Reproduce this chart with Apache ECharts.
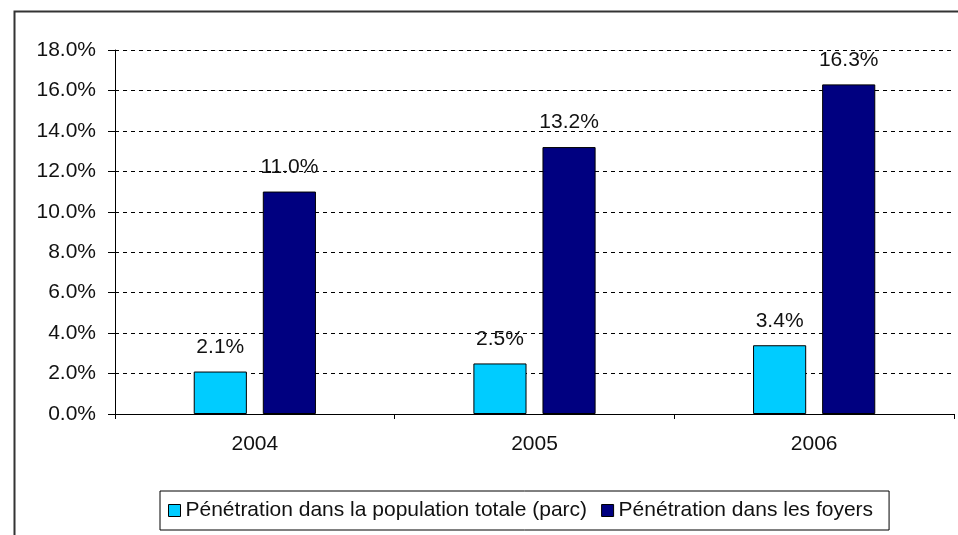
<!DOCTYPE html>
<html>
<head>
<meta charset="utf-8">
<script src="https://cdn.jsdelivr.net/npm/echarts@6/dist/echarts.min.js"></script>
<style>
	html, body { margin: 0; padding: 0; background: #fff; }
	#chart { width: 958px; height: 535px; }
</style>
</head>
<body>
<div id="chart"></div>
<script>
const years = ["2004", "2005", "2006"];
const populationValues = [2.1, 2.5, 3.4];
const foyersValues = [11.0, 13.2, 16.3];
const seriesNames = [
	"Pénétration dans la population totale (parc)",
	"Pénétration dans les foyers",
];

const chart = echarts.init(document.getElementById("chart"), null, { renderer: "canvas" });

const font = "Arial, 'Liberation Sans', sans-serif";
const fontSize = 21;

function barSeries(name, data, color) {
	return {
		name: name,
		type: "bar",
		data: data,
		barWidth: "19%",
		barGap: "30%",
		itemStyle: { color: color, borderColor: "#000", borderWidth: 1 },
		label: {
			show: true,
			position: "top",
			distance: 14,
			color: "#111",
			fontFamily: font,
			fontSize: fontSize,
			formatter: (p) => p.value.toFixed(1) + "%",
		},
	};
}

const option = {
	backgroundColor: "#fff",
	animation: false,
	graphic: [
		{
			type: "rect",
			left: 12,
			top: 9,
			shape: { width: 980, height: 560 },
			style: { fill: "none", stroke: "#333", lineWidth: 2 },
			silent: true,
		},
	],
	grid: { left: 115, right: 4, top: 50, bottom: 121 },
	legend: {
		left: 160,
		top: 491,
		padding: [9, 16, 9, 8],
		itemGap: 14,
		itemWidth: 12,
		itemHeight: 12,
		icon: "rect",
		borderColor: "#000",
		borderWidth: 1,
		itemStyle: { borderColor: "#000", borderWidth: 1 },
		textStyle: { color: "#111", fontFamily: font, fontSize: fontSize, padding: [0, 0, 0, 0] },
		data: seriesNames,
	},
	xAxis: {
		type: "category",
		data: years,
		boundaryGap: true,
		axisLine: { lineStyle: { color: "#000", width: 1 } },
		axisTick: { show: true, alignWithLabel: false, length: 5, lineStyle: { color: "#000" } },
		axisLabel: { color: "#111", fontFamily: font, fontSize: fontSize, margin: 20 },
	},
	yAxis: {
		type: "value",
		min: 0,
		max: 18,
		interval: 2,
		axisLine: { show: true, lineStyle: { color: "#000", width: 1 } },
		axisTick: { show: true, length: 7, lineStyle: { color: "#000" } },
		axisLabel: {
			color: "#111",
			fontFamily: font,
			fontSize: fontSize,
			margin: 19,
			formatter: (v) => v.toFixed(1) + "%",
		},
		splitLine: { show: true, lineStyle: { color: "#000", type: [4, 4], width: 1 } },
	},
	series: [
		barSeries(seriesNames[0], populationValues, "#00CCFF"),
		barSeries(seriesNames[1], foyersValues, "#000080"),
	],
};

chart.setOption(option);
</script>
</body>
</html>
